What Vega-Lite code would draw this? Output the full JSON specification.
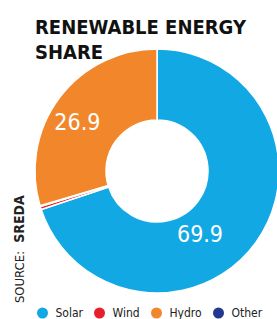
{
  "$schema": "https://vega.github.io/schema/vega-lite/v6.json",
  "width": 240,
  "height": 240,
  "autosize": {"type": "none"},
  "padding": {"left": 37, "top": 51, "right": 0, "bottom": 28},
  "background": "white",
  "title": {
    "text": ["RENEWABLE ENERGY", "SHARE"],
    "anchor": "start",
    "frame": "group",
    "font": "DejaVu Sans Condensed",
    "fontSize": 20,
    "fontWeight": "bold",
    "lineHeight": 25,
    "color": "#111111",
    "baseline": "alphabetic",
    "offset": 0,
    "dx": -2,
    "dy": 33
  },
  "config": {"view": {"stroke": null}},
  "layer": [
    {
      "data": {"values": [{"v": 0}]},
      "mark": {"type": "point", "opacity": 0},
      "encoding": {
        "y": {
          "field": "v", "type": "quantitative", "scale": {"domain": [0, 1]},
          "axis": {
            "orient": "left", "title": "SOURCE:", "domain": false, "ticks": false, "labels": false, "grid": false,
            "titleX": -18, "titleY": 225.5, "titleAngle": 270, "titleAlign": "center", "titleBaseline": "middle",
            "titleFont": "DejaVu Sans Condensed", "titleFontSize": 13,
            "titleFontWeight": "normal", "titleColor": "#222222"
          }
        }
      }
    },
    {
      "data": {"values": [{"v": 0}]},
      "mark": {"type": "point", "opacity": 0},
      "encoding": {
        "y": {
          "field": "v", "type": "quantitative", "scale": {"domain": [0, 1]},
          "axis": {
            "orient": "left", "title": "SREDA", "domain": false, "ticks": false, "labels": false, "grid": false,
            "titleX": -18, "titleY": 167.5, "titleAngle": 270, "titleAlign": "center", "titleBaseline": "middle",
            "titleFont": "DejaVu Sans Condensed", "titleFontSize": 14,
            "titleFontWeight": "bold", "titleColor": "#222222"
          }
        }
      }
    },
    {
      "data": {"name": "shares"},
      "layer": [
        {
          "mark": {"type": "arc", "radius": 122, "radius2": 51, "stroke": "white", "strokeWidth": 1.5},
          "encoding": {
            "theta": {"field": "value", "type": "quantitative", "stack": true},
            "order": {"field": "order", "type": "quantitative"},
            "color": {
              "field": "source", "type": "nominal",
              "scale": {"domain": ["Solar", "Wind", "Hydro", "Other"], "range": ["#12A8E4", "#E5202B", "#F2862A", "#23398F"]},
              "legend": {
                "orient": "none", "legendX": -0.5, "legendY": 256, "direction": "horizontal", "title": null,
                "symbolType": "circle", "symbolSize": 121, "symbolStrokeWidth": 0, "symbolOpacity": 1,
                "labelFont": "DejaVu Sans Condensed", "labelFontSize": 12,
                "labelColor": "#222222", "labelOffset": 7, "columnPadding": 10, "padding": 0
              }
            }
          }
        },
        {
          "mark": {"type": "text", "radius": 75, "thetaOffset": 0.335, "dy": 3, "color": "white", "fontSize": 23,
                   "font": "DejaVu Sans Condensed", "align": "center", "baseline": "middle"},
          "encoding": {
            "theta": {"field": "value", "type": "quantitative", "stack": true},
            "order": {"field": "order", "type": "quantitative"},
            "text": {"condition": {"test": "datum.source === 'Solar'", "field": "label"}, "value": ""}
          }
        },
        {
          "mark": {"type": "text", "radius": 94, "thetaOffset": -0.08, "dy": 2, "color": "white", "fontSize": 23,
                   "font": "DejaVu Sans Condensed", "align": "center", "baseline": "middle"},
          "encoding": {
            "theta": {"field": "value", "type": "quantitative", "stack": true},
            "order": {"field": "order", "type": "quantitative"},
            "text": {"condition": {"test": "datum.source === 'Hydro'", "field": "label"}, "value": ""}
          }
        }
      ]
    }
  ],
  "datasets": {
    "shares": [
      {"source": "Solar", "value": 69.9, "label": "69.9", "order": 1},
      {"source": "Wind", "value": 0.4, "label": "", "order": 2},
      {"source": "Other", "value": 0.1, "label": "", "order": 3},
      {"source": "Hydro", "value": 29.6, "label": "26.9", "order": 4}
    ]
  },
  "resolve": {"scale": {"y": "independent"}, "axis": {"y": "independent"}}
}
